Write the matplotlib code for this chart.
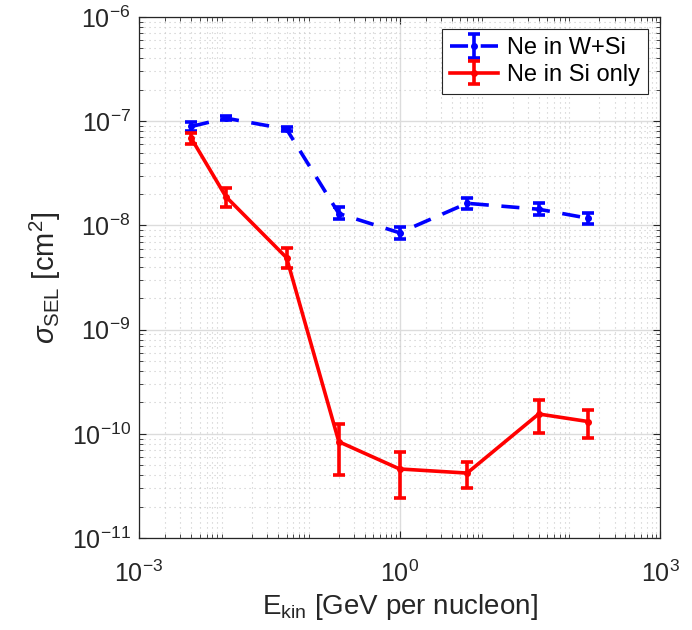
import numpy as np
import matplotlib
matplotlib.use("Agg")
import matplotlib.pyplot as plt

# energies [GeV per nucleon]
energy = [0.004, 0.01, 0.05, 0.2, 1.0, 6.0, 40.0, 150.0]

# Ne in W+Si
wsi_val = [8.9e-8, 1.07e-7, 8.4e-8, 1.3e-8, 8.5e-9, 1.63e-8, 1.43e-8, 1.17e-8]
wsi_lo = [8.0e-8, 1.03e-7, 8.0e-8, 1.15e-8, 7.4e-9, 1.43e-8, 1.26e-8, 1.03e-8]
wsi_hi = [9.8e-8, 1.11e-7, 8.8e-8, 1.49e-8, 9.7e-9, 1.82e-8, 1.63e-8, 1.31e-8]

# Ne in Si only
si_val = [6.85e-8, 1.89e-8, 4.9e-9, 8.4e-11, 4.6e-11, 4.2e-11, 1.55e-10, 1.31e-10]
si_lo = [6.1e-8, 1.51e-8, 3.9e-9, 4.0e-11, 2.4e-11, 3.0e-11, 1.01e-10, 9.2e-11]
si_hi = [7.7e-8, 2.27e-8, 6.1e-9, 1.24e-10, 6.7e-11, 5.4e-11, 2.1e-10, 1.69e-10]

plt.rcParams["font.family"] = ["Liberation Sans", "DejaVu Sans"]
plt.rcParams["mathtext.fontset"] = "custom"
plt.rcParams["mathtext.rm"] = "Liberation Sans"
plt.rcParams["mathtext.it"] = "Liberation Sans:italic"
plt.rcParams["mathtext.sf"] = "Liberation Sans"


def err(val, lo, hi):
    v = np.array(val)
    return [v - np.array(lo), np.array(hi) - v]


fig = plt.figure(figsize=(6.92, 6.3), dpi=100)
ax = fig.add_axes([0.2009, 0.146, 0.7529, 0.827])

ax.errorbar(energy, wsi_val, yerr=err(wsi_val, wsi_lo, wsi_hi), color="#0000ff",
            ls="--", lw=2.6, marker="o", ms=4, capsize=4, capthick=2.6,
            elinewidth=2.6, dashes=(5, 3.5), label="Ne in W+Si", zorder=3)
ax.errorbar(energy, si_val, yerr=err(si_val, si_lo, si_hi), color="#ff0000",
            ls="-", lw=2.6, marker="o", ms=4, capsize=4, capthick=2.6,
            elinewidth=2.6, label="Ne in Si only", zorder=4)

ax.set_xscale("log")
ax.set_yscale("log")
ax.set_xlim(1e-3, 1e3)
ax.set_ylim(1e-11, 1e-6)
ax.set_xticks([1e-3, 1e0, 1e3])
ax.set_yticks([1e-11, 1e-10, 1e-9, 1e-8, 1e-7, 1e-6])

ax.grid(True, which="major", color="#dcdcdc", lw=1.0, ls="-")
ax.grid(True, which="minor", color="#c8c8c8", lw=0.8, ls=(0, (1, 3.5)))
ax.set_axisbelow(True)

ax.tick_params(which="both", direction="in", top=True, right=True,
               labelsize=18, colors="#262626")
ax.tick_params(which="major", length=5, width=0.8)
ax.tick_params(which="minor", length=3, width=0.6)
ax.tick_params(axis="x", which="major", pad=16)
ax.tick_params(axis="y", which="major", pad=6)
for s in ax.spines.values():
    s.set_color("#262626")
    s.set_linewidth(0.9)

ax.set_xlabel(r"E$_{\rm kin}$ [GeV per nucleon]", fontsize=20, color="#262626",
              labelpad=4)
ax.set_ylabel(r"$\sigma_{\rm SEL}$ [cm$^2$]", fontsize=21, color="#262626",
              labelpad=6)

leg = ax.legend(loc="upper right", fontsize=17, fancybox=False, framealpha=1,
                edgecolor="#262626", borderpad=0.35, handlelength=2.0,
                labelspacing=0.2, handletextpad=0.4)
leg.get_frame().set_linewidth(0.8)

fig.savefig("out.png", dpi=100)
